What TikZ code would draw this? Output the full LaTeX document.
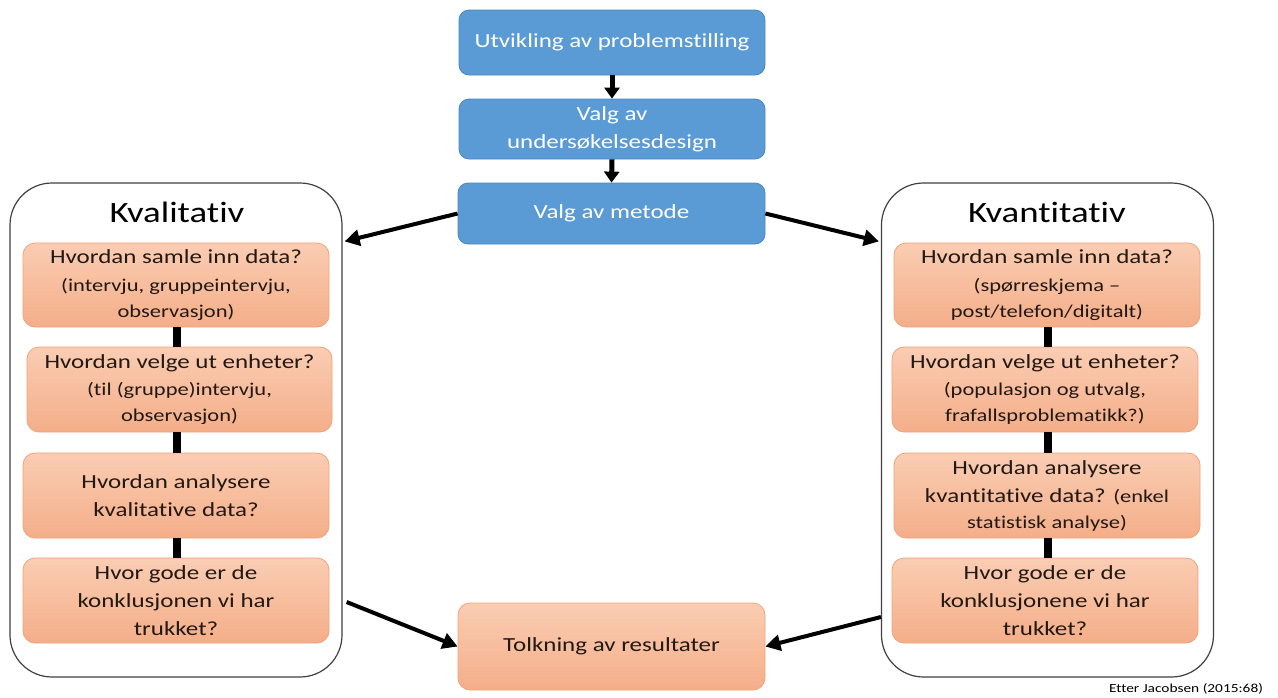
\documentclass[tikz,border=0pt]{standalone}
\usepackage{fontspec}
\setmainfont{Carlito}[FakeStretch=1.25,Ligatures=NoCommon]
\usetikzlibrary{arrows.meta,calc}
\definecolor{bluefill}{HTML}{5B9BD5}
\definecolor{blueline}{HTML}{4A86C2}
\definecolor{orangetop}{HTML}{FACDB3}
\definecolor{orangebot}{HTML}{F4AE89}
\definecolor{orangeline}{HTML}{F0A47C}
\definecolor{boxtext}{HTML}{221814}
\definecolor{frame}{HTML}{404040}
\newcommand{\mainsz}{\fontsize{20}{28}\selectfont}
\newcommand{\subsz}{\fontsize{18}{24}\selectfont}
\begin{document}
\begin{tikzpicture}[x=1pt,y=-1pt,
  bluebox/.style={draw=blueline, line width=0.8pt, fill=bluefill, rounded corners=10pt,
    minimum width=306pt, text=white, font=\mainsz, align=center, inner sep=0pt},
  orbox/.style={draw=orangeline, line width=0.8pt, top color=orangetop, bottom color=orangebot,
    rounded corners=12pt, minimum width=306pt, minimum height=85pt, text=boxtext,
    font=\mainsz, align=center, inner sep=0pt},
  container/.style={draw=frame, line width=1.2pt, rounded corners=42pt, fill=white,
    minimum width=332pt, minimum height=494pt, inner sep=0pt},
  title/.style={font=\fontsize{29.5}{34}\selectfont, text=black},
  link/.style={line width=8pt, draw=black},
  flow/.style={line width=4pt, draw=black, -{Triangle[length=15pt,width=16pt]}},
  down/.style={line width=5pt, draw=black, -{Triangle[length=11pt,width=15pt]}}
]
\useasboundingbox (0,0) rectangle (1278,697);

% containers
\node[container] (kval) at (176,430) {};
\node[container] (kvan) at (1047.5,430) {};
\node[title] (tkval) at (177,212) {Kvalitativ};
\node[title] (tkvan) at (1047,212) {Kvantitativ};

% blue boxes
\node[bluebox, minimum height=65pt] (b1) at (612,42.5) {Utvikling av problemstilling};
\node[bluebox, minimum height=60pt] (b2) at (612,129) {Valg av\\undersøkelsesdesign};
\node[bluebox, minimum height=61pt, minimum width=307pt] (b3) at (611.5,213.5) {Valg av metode};

% bottom box
\node[orbox, minimum height=87pt, minimum width=307pt] (tolk) at (611.5,646.5) {Tolkning av resultater};

% left column
\node[orbox, minimum height=84pt] (l1) at (176,285) {Hvordan samle inn data?\\[-0.5pt]{\subsz (intervju, gruppeintervju,}\\[-2pt]{\subsz observasjon)}};
\node[orbox, minimum width=305pt] (l2) at (179.5,389.5) {Hvordan velge ut enheter?\\[-0.5pt]{\subsz (til (gruppe)intervju,}\\[-2pt]{\subsz observasjon)}};
\node[orbox] (l3) at (176,495.5) {Hvordan analysere\\kvalitative data?};
\node[orbox] (l4) at (176,600.5) {Hvor gode er de\\konklusjonen vi har\\trukket?};

% right column
\node[orbox, minimum height=84pt] (r1) at (1047,285) {Hvordan samle inn data?\\[-0.5pt]{\subsz (spørreskjema –}\\[-2pt]{\subsz post/telefon/digitalt)}};
\node[orbox] (r2) at (1045,389.5) {Hvordan velge ut enheter?\\[-0.5pt]{\subsz (populasjon og utvalg,}\\[-2pt]{\subsz frafallsproblematikk?)}};
\node[orbox] (r3) at (1047,495.5) {Hvordan analysere\\kvantitative data? {\subsz (enkel}\\[-2pt]{\subsz statistisk analyse)}};
\node[orbox] (r4) at (1045,600.5) {Hvor gode er de\\konklusjonene vi har\\trukket?};

% vertical links
\draw[link] ([xshift=0.5pt]l1.south) -- ([xshift=0.5pt]l1.south |- l2.north);
\draw[link] ([xshift=0.5pt]l1.south |- l2.south) -- ([xshift=0.5pt]l1.south |- l3.north);
\draw[link] ([xshift=0.5pt]l3.south) -- ([xshift=0.5pt]l3.south |- l4.north);
\draw[link] ([xshift=1pt]r1.south) -- ([xshift=1pt]r1.south |- r2.north);
\draw[link] ([xshift=1pt]r1.south |- r2.south) -- ([xshift=1pt]r1.south |- r3.north);
\draw[link] ([xshift=1pt]r3.south) -- ([xshift=1pt]r3.south |- r4.north);

% blue flow arrows
\draw[down] (b1.south) -- (b2.north);
\draw[down] (b2.south) -- (b3.north);

% diagonal arrows
\draw[flow] (b3.west) -- ([xshift=2pt,yshift=-59pt]kval.north east);
\draw[flow] (b3.east) -- ([xshift=-2pt,yshift=-59pt]kvan.north west);
\draw[flow] ([xshift=4pt,yshift=-172pt]kval.east) -- (tolk.west);
\draw[flow] ([yshift=-187pt]kvan.west) -- (tolk.east);

% citation
\node[font=\fontsize{12.3}{14}\selectfont, text=black] (cite) at (1186,689) {Etter Jacobsen (2015:68)};
\end{tikzpicture}
\end{document}
